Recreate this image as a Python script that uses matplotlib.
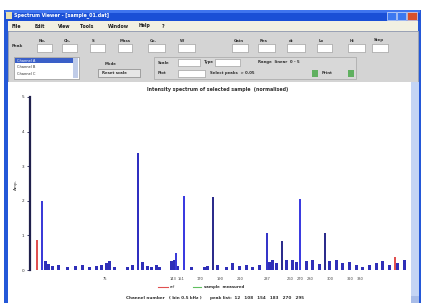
import matplotlib
matplotlib.use("Agg")
import matplotlib.pyplot as plt
from matplotlib.patches import Rectangle

W, H = 422, 303

# peak data (channel, amplitude)
peak_ch = [12, 108, 146, 154, 183, 237, 252, 270, 295]
peak_amp = [2.0, 3.38, 0.5, 2.14, 2.1, 1.07, 0.84, 2.05, 1.07]
peak_col = ["#3b3bd8", "#2f2fc0", "#3b3bd8", "#3b3be0", "#2c2c8c", "#3535c8", "#2c2c8c", "#3b3be0", "#2c2c8c"]

ref_ch = [7, 365]
ref_amp = [0.87, 0.37]

small_ch = [15, 18, 22, 29, 37, 45, 53, 60, 67, 72, 77, 80, 85, 98, 103, 113, 118, 122,
            127, 130, 142, 145, 148, 162, 175, 178, 188, 197, 203, 210, 217, 223, 230,
            240, 243, 247, 257, 263, 267, 277, 283, 290, 300, 307, 313, 320, 327, 333,
            340, 347, 353, 360, 368, 375]
small_amp = [0.25, 0.18, 0.12, 0.15, 0.1, 0.12, 0.14, 0.1, 0.12, 0.15, 0.2, 0.25, 0.08,
             0.1, 0.14, 0.22, 0.12, 0.1, 0.15, 0.1, 0.25, 0.3, 0.12, 0.1, 0.1, 0.12,
             0.15, 0.1, 0.2, 0.12, 0.15, 0.1, 0.14, 0.22, 0.3, 0.2, 0.28, 0.3, 0.22,
             0.25, 0.3, 0.18, 0.25, 0.3, 0.2, 0.22, 0.15, 0.1, 0.14, 0.2, 0.25, 0.15,
             0.2, 0.28]

y_ticks = [0, 1, 2, 3, 4, 5]
x_tick_ch = [75, 143, 151, 170, 190, 210, 237, 260, 270, 280, 300, 320, 330]
x_tick_lbl = ["75", "143", "151", "170", "190", "210", "237", "260", "270", "280", "300", "320", "330"]

menu_items = ["File", "Edit", "View", "Tools", "Window", "Help", "?"]

fig = plt.figure(figsize=(W / 100, H / 100), dpi=100)
fig.patch.set_facecolor("white")

# window chrome in pixel coordinates
ui = fig.add_axes([0, 0, 1, 1])
ui.set_xlim(0, W)
ui.set_ylim(H, 0)
ui.axis("off")


def box(x0, y0, x1, y1, fc, ec="none", lw=0.5, z=1):
    ui.add_patch(Rectangle((x0, y0), x1 - x0, y1 - y0, facecolor=fc, edgecolor=ec, lw=lw, zorder=z))


def txt(x, y, s, size=3.2, color="#303030", **kw):
    ui.text(x, y, s, fontsize=size, color=color, va="center", **kw)


box(4, 10, 421, 303, "#2458d8")
box(5, 10, 420, 21, "#1a4fd6")
box(5, 10, 420, 13, "#3f74ee")
txt(14, 15.5, "Spectrum Viewer - [sample_01.dat]", size=3.4, color="white", weight="bold")
box(6, 12, 12, 19, "#e8e0b0")
box(387, 12, 396, 20, "#3c78f0", ec="white", lw=0.4, z=2)
box(397, 12, 406, 20, "#3c78f0", ec="white", lw=0.4, z=2)
box(407, 12, 417, 20, "#d8502c", ec="white", lw=0.4, z=2)

# menu bar
box(8, 21, 418, 31, "#f2f0e2")
mx = 12
for item in menu_items:
    txt(mx, 26, item, size=3.3, color="#202020", weight="bold")
    mx += 6 + 4.2 * len(item)

# toolbar
box(8, 31, 418, 82, "#d4d4d4", ec="#a8a8a8")
txt(12, 46, "Peak", size=3.0, weight="bold")
fields = [(37, 52), (62, 77), (90, 105), (118, 132), (148, 165), (178, 195), (232, 248),
          (258, 275), (287, 305), (317, 332), (348, 365), (372, 388)]
labels = ["No.", "Ch.", "S", "Mass", "Co.", "W", "Gain", "Res", "dt", "Lo", "Hi", "Step"]
for (a, b), lab in zip(fields, labels):
    box(a, 44, b, 52, "white", ec="#909090", lw=0.4)
    txt(a + 2, 40.5, lab, size=2.8, weight="bold")
box(14, 57, 79, 79, "white", ec="#808080", lw=0.4)
box(15, 58, 73, 63, "#3a5fc8")
txt(17, 60.5, "Channel A", size=2.6, color="white")
txt(17, 67, "Channel B", size=2.6)
txt(17, 74, "Channel C", size=2.6)
box(73, 58, 78, 78, "#c0cce8")
txt(105, 64, "Mode", size=2.8, weight="bold")
box(98, 69, 140, 77, "#e6e6e6", ec="#707070", lw=0.4)
txt(102, 73, "Reset scale", size=2.8, weight="bold")
box(154, 57, 356, 79, "#d8d8d8", ec="#9a9a9a", lw=0.4)
txt(158, 62.5, "Scale", size=2.8, weight="bold")
box(178, 59, 200, 66, "white", ec="#909090", lw=0.4)
txt(204, 62.5, "Type", size=2.8, weight="bold")
box(215, 59, 240, 66, "white", ec="#909090", lw=0.4)
txt(258, 62.5, "Range  linear  0 - 5", size=2.8, weight="bold")
txt(158, 73, "Plot", size=2.8, weight="bold")
box(178, 70, 205, 77, "white", ec="#909090", lw=0.4)
txt(210, 73, "Select peaks  > 0.05", size=2.8, weight="bold")
box(312, 70, 318, 77, "#60b060")
txt(322, 73, "Print", size=2.8, weight="bold")
box(348, 70, 354, 77, "#60b060")

# plot area + scrollbar
box(8, 82, 411, 303, "white")
box(411, 82, 419, 303, "#c4d4f4")
box(411, 296, 419, 303, "#a8bce8")

ui.text(218, 90, "Intensity spectrum of selected sample  (normalised)", fontsize=3.4,
        color="#303030", ha="center", va="center", weight="bold")
ui.text(16, 185, "Amp.", fontsize=3.0, color="#303030", rotation=90, ha="center", va="center")

# legend and x label
ui.plot([158, 168], [287, 287], color="#e05050", lw=0.8)
txt(170, 287, "ref", size=2.8)
ui.plot([193, 201], [287, 287], color="#60c060", lw=0.8)
txt(204, 287, "sample  measured", size=2.8, weight="bold")
ui.text(215, 298, "Channel number   ( bin 0.5 kHz )      peak list:  12   108   154   183   270   295",
        fontsize=3.0, color="#303030", ha="center", va="center", weight="bold")

# chart axes: pixel x 30..410, y 97..270
ax = fig.add_axes([30 / W, (H - 270) / H, 380 / W, 173 / H])
ax.patch.set_alpha(0)
ax.bar(small_ch, small_amp, width=3.0, color="#2f2fb8", linewidth=0)
ax.bar(peak_ch, peak_amp, width=2.4, color=peak_col, linewidth=0)
ax.bar(ref_ch, ref_amp, width=1.8, color="#e05050", linewidth=0)
ax.set_xlim(0, 380)
ax.set_ylim(0, 5)
for s in ["top", "right", "bottom"]:
    ax.spines[s].set_visible(False)
ax.spines["left"].set_color("#20204c")
ax.spines["left"].set_linewidth(1.6)
ax.set_yticks(y_ticks)
ax.set_yticklabels([str(v) for v in y_ticks])
ax.tick_params(axis="y", labelsize=3.0, length=2, width=0.6, color="#20204c", pad=2, labelcolor="#303030")
ax.set_xticks(x_tick_ch)
ax.set_xticklabels(x_tick_lbl)
ax.tick_params(axis="x", labelsize=2.6, length=0, pad=5, labelcolor="#404040")

fig.savefig("out.png", dpi=100)
